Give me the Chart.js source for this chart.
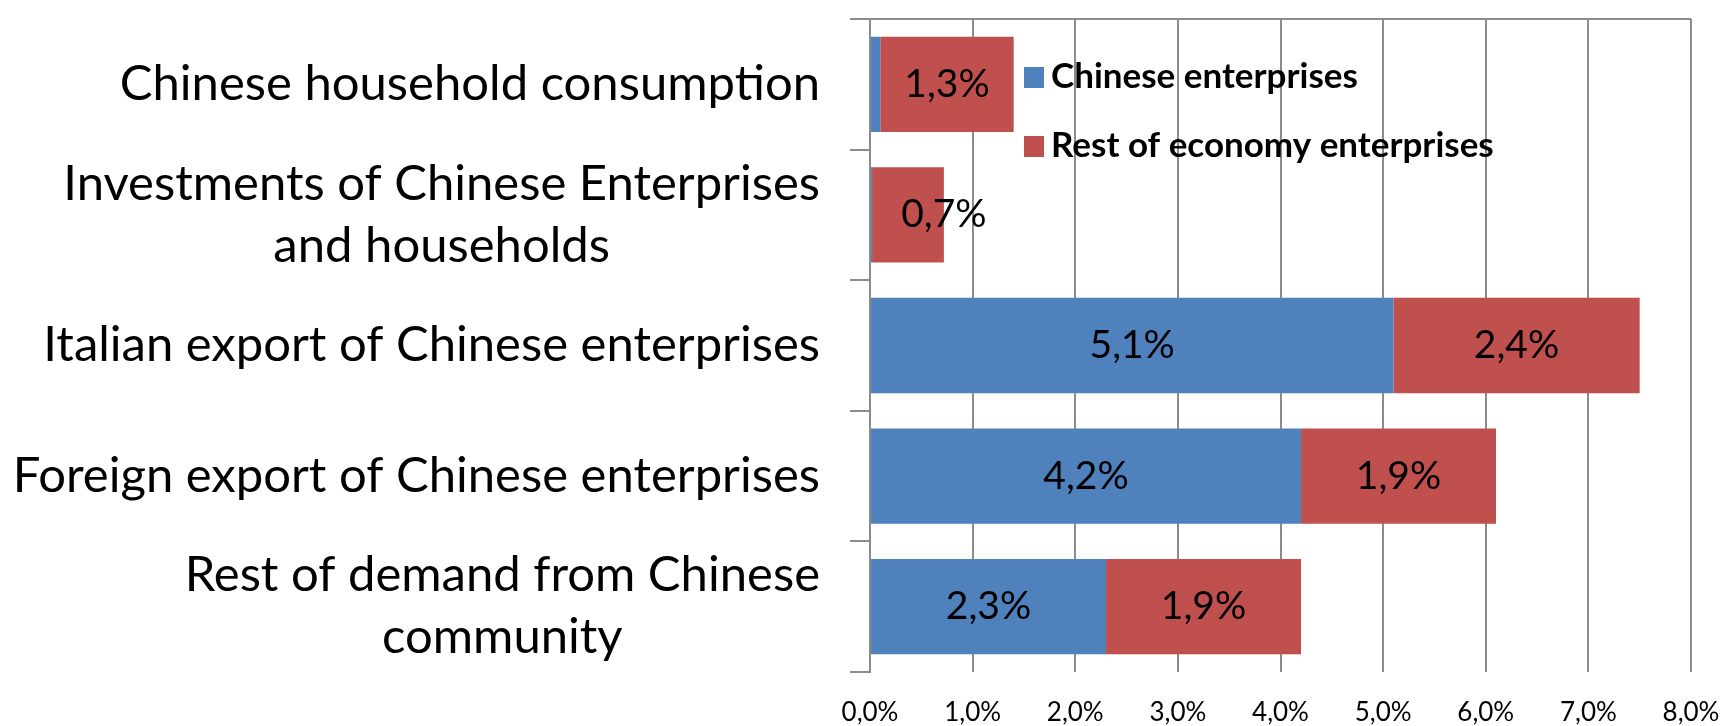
<!DOCTYPE html>
<html>
<head>
<meta charset="utf-8">
<script src="https://cdn.jsdelivr.net/npm/chart.js@4"></script>
<style>
html, body { margin: 0; padding: 0; background: #fff; }
#wrap { width: 1721px; height: 726px; }
</style>
</head>
<body>
<div id="wrap"><canvas id="cs"></canvas></div>
<script>
var categories = [
  ["Chinese household consumption"],
  ["Investments of Chinese Enterprises", "and households"],
  ["Italian export of Chinese enterprises"],
  ["Foreign export of Chinese enterprises"],
  ["Rest of demand from Chinese", "community"]
];
var seriesNames = ["Chinese enterprises", "Rest of economy enterprises"];
var chineseEnterprises = [0.1, 0.02, 5.1, 4.2, 2.3];
var restOfEconomy = [1.3, 0.7, 2.4, 1.9, 1.9];
var xTicks = [0, 1, 2, 3, 4, 5, 6, 7, 8];

var BLUE = "#4F81BD", RED = "#C0504D", GRID = "#8c8c8c";

function pct(v) { return v.toFixed(1).replace(".", ",") + "%"; }

// category labels: block right-aligned, each line centered in the block
var catLabels = {
  id: "catLabels",
  afterDraw: function (chart) {
    var y = chart.scales.y, ctx = chart.ctx;
    ctx.save();
    ctx.font = "49px Lato";
    ctx.fillStyle = "#000";
    ctx.textBaseline = "middle";
    ctx.textAlign = "center";
    var right = y.right - 50;
    categories.forEach(function (lines, i) {
      var w = Math.max.apply(null, lines.map(function (t) { return ctx.measureText(t).width; }));
      var cy = y.getPixelForTick(i);
      lines.forEach(function (t, k) {
        ctx.fillText(t, right - w / 2, cy + (k - (lines.length - 1) / 2) * 62);
      });
    });
    ctx.restore();
  }
};

// value labels inside the bars
var barLabels = {
  id: "barLabels",
  afterDatasetsDraw: function (chart) {
    var ctx = chart.ctx;
    ctx.save();
    ctx.font = "39px Lato";
    ctx.fillStyle = "#000";
    ctx.textAlign = "center";
    ctx.textBaseline = "middle";
    chart.data.datasets.forEach(function (ds, di) {
      chart.getDatasetMeta(di).data.forEach(function (bar, i) {
        var v = ds.data[i];
        if (v < 0.5) return;
        var t = pct(v);
        var bw = Math.abs(bar.x - bar.base);
        var x = ctx.measureText(t).width + 12 > bw ? bar.x : (bar.x + bar.base) / 2;
        ctx.fillText(t, x, bar.y);
      });
    });
    ctx.restore();
  }
};

// legend drawn inside the plot area
var insideLegend = {
  id: "insideLegend",
  afterDraw: function (chart) {
    var ctx = chart.ctx;
    ctx.save();
    ctx.font = "bold 35px Lato";
    ctx.textBaseline = "middle";
    ctx.textAlign = "left";
    chart.data.datasets.forEach(function (ds, i) {
      var cy = 77 + i * 69;
      ctx.fillStyle = ds.backgroundColor;
      ctx.fillRect(1024, cy - 10, 20, 21);
      ctx.fillStyle = "#000";
      ctx.fillText(ds.label, 1051, cy);
    });
    ctx.restore();
  }
};

new Chart(document.getElementById("cs"), {
  type: "bar",
  data: {
    labels: categories,
    datasets: [
      { label: seriesNames[0], data: chineseEnterprises, backgroundColor: BLUE },
      { label: seriesNames[1], data: restOfEconomy, backgroundColor: RED }
    ]
  },
  options: {
    indexAxis: "y",
    responsive: true,
    maintainAspectRatio: false,
    animation: false,
    categoryPercentage: 1,
    barPercentage: 0.73,
    layout: { padding: { top: 19, right: 0, bottom: 0, left: 0 } },
    plugins: { legend: { display: false }, tooltip: { enabled: false } },
    scales: {
      x: {
        stacked: true,
        min: xTicks[0],
        max: xTicks[xTicks.length - 1],
        afterBuildTicks: function (s) { s.ticks = xTicks.map(function (v) { return { value: v }; }); },
        ticks: {
          padding: 25,
          color: "#000",
          font: { family: "Lato", size: 26 },
          maxRotation: 0,
          callback: function (v) { return pct(v); }
        },
        grid: { color: GRID, lineWidth: 2, drawTicks: false },
        border: { display: false },
        afterFit: function (s) { s.height = 54; s.paddingRight = 30; s.paddingLeft = 0; }
      },
      y: {
        stacked: true,
        ticks: { display: false },
        grid: {
          color: function (c) { return c.index === 0 ? GRID : "transparent"; },
          tickColor: GRID,
          tickLength: 20,
          lineWidth: 2
        },
        border: { color: GRID, width: 2 },
        afterFit: function (s) { s.width = 870; }
      }
    }
  },
  plugins: [catLabels, barLabels, insideLegend]
});
</script>
</body>
</html>
